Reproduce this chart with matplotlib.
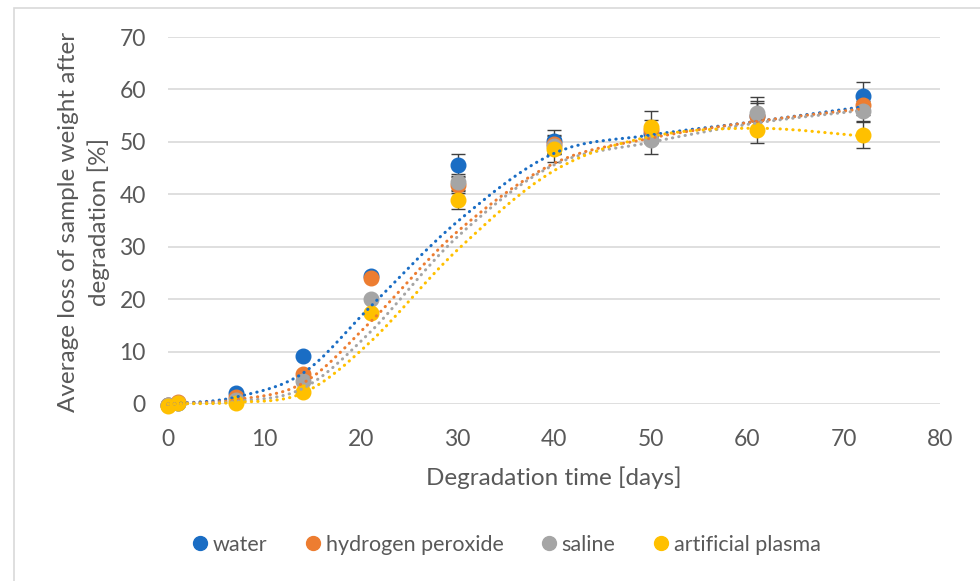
import matplotlib
matplotlib.use("Agg")
import matplotlib.pyplot as plt
from matplotlib.path import Path
from matplotlib.patches import PathPatch, Rectangle
from matplotlib.lines import Line2D
import numpy as np

plt.rcParams['font.family'] = ['Lato', 'DejaVu Sans']

# sampling days
days = [0, 1, 7, 14, 21, 30, 40, 50, 61, 72]

# measured mean weight loss [%]
water = [-0.2, 0.2, 2.1, 9.2, 24.4, 45.6, 50.1, 51.5, 55.0, 58.8]
peroxide = [-0.1, 0.3, 1.3, 5.8, 24.0, 41.8, 49.5, 52.2, 54.9, 57.1]
saline = [-0.2, 0.1, 0.8, 4.3, 20.0, 42.3, 49.2, 50.3, 55.5, 55.8]
plasma = [-0.3, 0.2, 0.1, 2.3, 17.4, 38.9, 48.6, 52.9, 52.3, 51.3]

# standard deviations
water_err = [0.1, 0.1, 0.2, 0.3, 0.4, 2.1, 2.2, 1.8, 2.5, 2.6]
peroxide_err = [0.1, 0.1, 0.2, 0.3, 0.4, 1.5, 1.8, 2.0, 2.8, 2.0]
saline_err = [0.1, 0.1, 0.2, 0.3, 0.4, 1.5, 1.5, 2.6, 3.0, 1.9]
plasma_err = [0.1, 0.1, 0.2, 0.3, 0.4, 1.7, 2.5, 2.9, 2.6, 2.5]

# model fit values at the same days
water_fit = [0, 0.1, 1.3, 5.9, 18.6, 34.8, 47.8, 51.3, 53.9, 56.7]
peroxide_fit = [0, 0.1, 0.8, 4.0, 15.7, 32.9, 45.9, 50.7, 53.9, 56.3]
saline_fit = [0, 0.05, 0.5, 3.0, 13.8, 31.9, 45.6, 49.9, 53.6, 56.0]
plasma_fit = [0, 0.05, 0.3, 2.1, 11.9, 29.4, 44.5, 51.0, 52.6, 51.1]

labels = ["water", "hydrogen peroxide", "saline", "artificial plasma"]
colors = ["#1a6dc4", "#ed7d31", "#a5a5a5", "#ffc000"]
text_color = "#595959"
grid_color = "#d9d9d9"


def smooth_path(xs, ys):
    # bezier path through every point, like a spreadsheet "smoothed line"
    pts = np.column_stack([xs, ys]).astype(float)
    n = len(pts)
    verts = [pts[0]]
    codes = [Path.MOVETO]
    for i in range(n - 1):
        p0 = pts[i - 1] if i > 0 else pts[i]
        p1 = pts[i]
        p2 = pts[i + 1]
        p3 = pts[i + 2] if i + 2 < n else pts[i + 1]
        c1 = p1 + (p2 - p0) / 6.0
        c2 = p2 - (p3 - p1) / 6.0
        verts += [c1, c2, p2]
        codes += [Path.CURVE4] * 3
    return Path(verts, codes)


fig = plt.figure(figsize=(9.8, 5.81), dpi=100)
ax = fig.add_axes([168 / 980, 1 - 404 / 581, (940 - 168) / 980, (404 - 37) / 581])

# light border round the chart area
fig.patches.append(Rectangle((14 / 980, -0.1), 1.1, 1 - 8 / 581 + 0.1,
                             transform=fig.transFigure, fill=False,
                             edgecolor=grid_color, linewidth=1.2))

series = [water, peroxide, saline, plasma]
errors = [water_err, peroxide_err, saline_err, plasma_err]
fits = [water_fit, peroxide_fit, saline_fit, plasma_fit]

# error bars sit under all the markers
for vals, err in zip(series, errors):
    ax.errorbar(days, vals, yerr=err, fmt="none", ecolor="#404040",
                elinewidth=1.0, capsize=5, capthick=1.0, zorder=2)

for vals, col, k in zip(series, colors, range(4)):
    ax.plot(days, vals, "o", color=col, markersize=10.5, zorder=3 + k,
            clip_on=False)

for fit, col in zip(fits, colors):
    patch = PathPatch(smooth_path(days, fit), fill=False, edgecolor=col,
                      linewidth=2.2, linestyle=(0, (0.1, 2.0)),
                      capstyle="round", zorder=8, clip_on=False)
    ax.add_patch(patch)

ax.set_xlim(0, 80)
ax.set_ylim(0, 70)
ax.set_xticks(range(0, 81, 10))
ax.set_yticks(range(0, 71, 10))
ax.grid(axis="y", color=grid_color, linewidth=1.2)
ax.set_axisbelow(True)
for side in ["top", "right", "left", "bottom"]:
    ax.spines[side].set_visible(False)
ax.tick_params(length=0, labelsize=16.5, labelcolor=text_color)
ax.tick_params(axis="x", pad=18)
ax.tick_params(axis="y", pad=16)

ax.set_xlabel("Degradation time [days]", fontsize=17.5, color=text_color, labelpad=12)
fig.text(84 / 980, 1 - 222 / 581,
         "Average loss of sample weight after\ndegradation [%]",
         rotation=90, ha="center", va="center", multialignment="center",
         fontsize=17.5, color=text_color, linespacing=1.45)

handles = [Line2D([], [], linestyle="none", marker="o", markersize=10,
                  color=c) for c in colors]
fig.legend(handles, labels, loc="center", bbox_to_anchor=(505 / 980, 1 - 545 / 581),
           ncol=4, frameon=False, fontsize=15.5, labelcolor=text_color,
           handletextpad=0.1, columnspacing=1.6, handlelength=1.0)

fig.savefig("out.png", dpi=100)
